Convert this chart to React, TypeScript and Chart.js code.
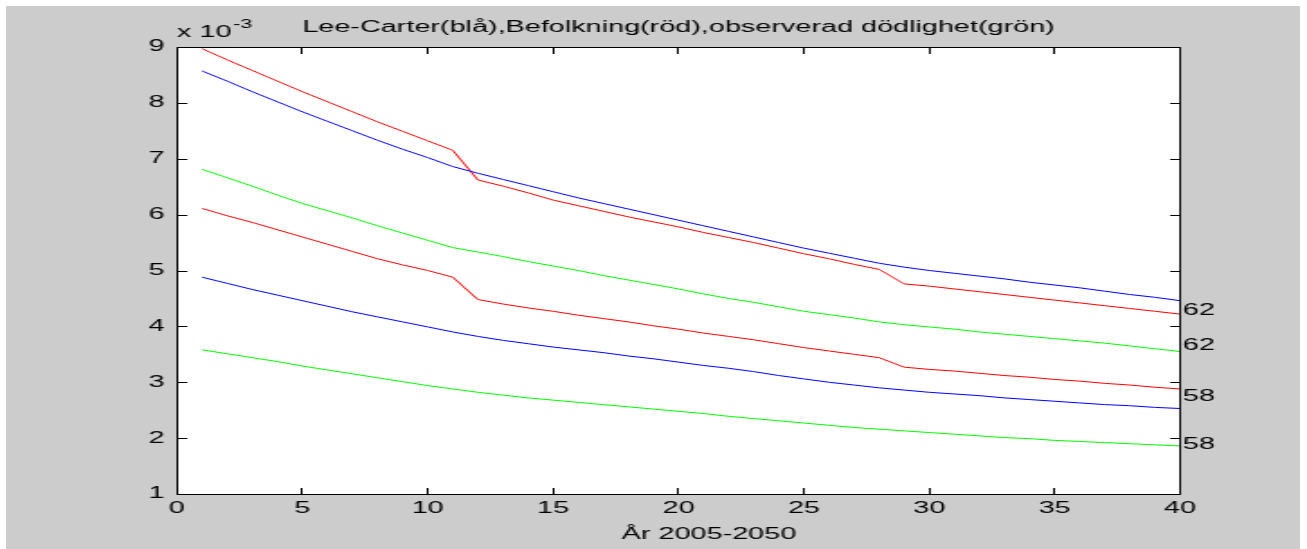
import React, { useEffect, useRef } from 'react';
import { Chart, registerables } from 'chart.js';

Chart.register(...registerables);

// ---- data (mortality values in units of 10^-3) ----
const years = [1, 2, 3, 4, 5, 6, 7, 8, 9, 10, 11, 12, 13, 14, 15, 16, 17, 18, 19, 20,
  21, 22, 23, 24, 25, 26, 27, 28, 29, 30, 31, 32, 33, 34, 35, 36, 37, 38, 39, 40];

const leeCarter62 = [8.57, 8.39, 8.20, 8.02, 7.84, 7.67, 7.50, 7.33, 7.17, 7.02,
  6.86, 6.74, 6.63, 6.52, 6.41, 6.30, 6.20, 6.10, 6.00, 5.90,
  5.80, 5.70, 5.60, 5.50, 5.40, 5.31, 5.22, 5.13, 5.06, 5.00,
  4.95, 4.90, 4.85, 4.79, 4.74, 4.69, 4.63, 4.57, 4.52, 4.46];

const befolkning62 = [8.97, 8.77, 8.58, 8.39, 8.20, 8.02, 7.84, 7.66, 7.49, 7.32,
  7.15, 6.62, 6.51, 6.39, 6.26, 6.16, 6.06, 5.96, 5.87, 5.78,
  5.68, 5.59, 5.50, 5.40, 5.30, 5.21, 5.11, 5.02, 4.76, 4.72,
  4.67, 4.62, 4.57, 4.52, 4.47, 4.42, 4.37, 4.32, 4.27, 4.22];

const observerad62 = [6.81, 6.66, 6.51, 6.35, 6.20, 6.07, 5.94, 5.80, 5.67, 5.54,
  5.41, 5.33, 5.25, 5.16, 5.08, 5.00, 4.91, 4.83, 4.75, 4.67,
  4.58, 4.50, 4.43, 4.35, 4.27, 4.21, 4.15, 4.08, 4.03, 3.99,
  3.95, 3.90, 3.86, 3.82, 3.78, 3.74, 3.70, 3.65, 3.60, 3.55];

const befolkning58 = [6.11, 5.98, 5.86, 5.73, 5.60, 5.47, 5.34, 5.21, 5.10, 5.00,
  4.88, 4.48, 4.40, 4.33, 4.27, 4.20, 4.14, 4.08, 4.01, 3.95,
  3.88, 3.82, 3.76, 3.69, 3.62, 3.56, 3.50, 3.44, 3.27, 3.23,
  3.20, 3.16, 3.12, 3.09, 3.05, 3.02, 2.98, 2.95, 2.91, 2.88];

const leeCarter58 = [4.88, 4.77, 4.66, 4.56, 4.46, 4.36, 4.26, 4.17, 4.08, 3.99,
  3.90, 3.82, 3.75, 3.69, 3.63, 3.58, 3.53, 3.47, 3.42, 3.36,
  3.30, 3.25, 3.19, 3.12, 3.06, 3.00, 2.95, 2.90, 2.86, 2.82,
  2.79, 2.76, 2.72, 2.69, 2.66, 2.63, 2.60, 2.58, 2.55, 2.53];

const observerad58 = [3.58, 3.51, 3.44, 3.37, 3.29, 3.22, 3.15, 3.08, 3.01, 2.94,
  2.88, 2.82, 2.77, 2.72, 2.68, 2.64, 2.60, 2.56, 2.52, 2.48,
  2.44, 2.39, 2.35, 2.31, 2.27, 2.23, 2.19, 2.16, 2.13, 2.10,
  2.07, 2.04, 2.01, 1.99, 1.96, 1.94, 1.92, 1.90, 1.88, 1.86];

const xTickValues = [0, 5, 10, 15, 20, 25, 30, 35, 40];
const yTickValues = [1, 2, 3, 4, 5, 6, 7, 8, 9];
const endLabels = ['62', '62', '58', '58'];
const endLabelValues = [4.275, 3.65, 2.75, 1.88];

const titleText = 'Lee-Carter(blå),Befolkning(röd),observerad dödlighet(grön)';
const xTitleText = 'År 2005-2050';
const exponentBase = 'x 10';
const exponentPower = '-3';

// ---- layout ----
const PAGE_W = 1307;
const PAGE_H = 549;
const LOGICAL_W = 726;
const SX = PAGE_W / LOGICAL_W; // horizontal stretch of the canvas
const FONT = '"Liberation Sans", Arial, Helvetica, sans-serif';

const toL = (pageX: number) => pageX / SX;

const series = [
  { label: 'Lee-Carter 62', data: leeCarter62, color: '#0000ff' },
  { label: 'Befolkning 62', data: befolkning62, color: '#ff0000' },
  { label: 'Observerad 62', data: observerad62, color: '#00ff00' },
  { label: 'Befolkning 58', data: befolkning58, color: '#ff0000' },
  { label: 'Lee-Carter 58', data: leeCarter58, color: '#0000ff' },
  { label: 'Observerad 58', data: observerad58, color: '#00ff00' },
];

const framePlugin = {
  id: 'matlabFrame',
  beforeDraw(chart: any) {
    const { ctx, chartArea } = chart;
    const { left, top, right, bottom } = chartArea;
    ctx.save();
    ctx.fillStyle = '#ffffff';
    ctx.fillRect(left, top, right - left, bottom - top);
    ctx.restore();
  },
  afterDatasetsDraw(chart: any) {
    const { ctx, chartArea, scales } = chart;
    const { left, top, right, bottom } = chartArea;
    const xs = scales.x;
    const ys = scales.y;
    const L = Math.floor(left) + 0.5;
    const R = Math.floor(right) + 0.5;
    const T = Math.round(top) + 0.5;
    const B = Math.round(bottom) + 0.5;
    ctx.save();
    ctx.strokeStyle = '#000000';
    ctx.lineWidth = 1;
    ctx.beginPath();
    ctx.moveTo(L, T);
    ctx.lineTo(R, T);
    ctx.lineTo(R, B);
    ctx.lineTo(L, B);
    ctx.closePath();
    ctx.stroke();
    const yLen = toL(10);
    const xLen = 6.5;
    ctx.beginPath();
    for (const v of yTickValues) {
      const py = Math.round(ys.getPixelForValue(v)) + 0.5;
      ctx.moveTo(L, py);
      ctx.lineTo(L + yLen, py);
      ctx.moveTo(R, py);
      ctx.lineTo(R - yLen, py);
    }
    for (const v of xTickValues) {
      const px = Math.floor(xs.getPixelForValue(v)) + 0.5;
      ctx.moveTo(px, B);
      ctx.lineTo(px, B - xLen);
      ctx.moveTo(px, T);
      ctx.lineTo(px, T + xLen);
    }
    ctx.stroke();

    ctx.fillStyle = '#000000';
    // end labels
    ctx.font = `16px ${FONT}`;
    ctx.textAlign = 'left';
    ctx.textBaseline = 'middle';
    endLabels.forEach((t, i) => {
      ctx.fillText(t, xs.getPixelForValue(40) + toL(3), ys.getPixelForValue(endLabelValues[i]));
    });
    // x axis title
    ctx.textAlign = 'center';
    ctx.fillText(xTitleText, toL(709), 535);
    // exponent
    ctx.textAlign = 'left';
    ctx.textBaseline = 'alphabetic';
    ctx.font = `16px ${FONT}`;
    const bx = toL(177);
    ctx.fillText(exponentBase, bx, 37);
    const w = ctx.measureText(exponentBase).width;
    ctx.font = `12px ${FONT}`;
    ctx.fillText(exponentPower, bx + w + 1, 28);
    ctx.restore();
  },
};

export default function App() {
  const canvasRef = useRef<HTMLCanvasElement | null>(null);

  useEffect(() => {
    const canvas = canvasRef.current;
    if (!canvas) return;
    const chart = new Chart(canvas, {
      type: 'line',
      data: {
        datasets: series.map((s) => ({
          label: s.label,
          data: years.map((x, i) => ({ x, y: s.data[i] })),
          borderColor: s.color,
          backgroundColor: s.color,
          borderWidth: 1,
          pointRadius: 0,
          tension: 0,
          fill: false,
        })),
      },
      options: {
        responsive: false,
        animation: false,
        events: [],
        layout: {
          padding: { left: 0, right: LOGICAL_W - toL(1180), top: 0, bottom: 0 },
        },
        plugins: {
          legend: { display: false },
          tooltip: { enabled: false },
          title: {
            display: true,
            text: titleText,
            fullSize: false,
            color: '#000000',
            font: { family: FONT, size: 16, weight: 'normal' },
            padding: { top: 18, bottom: 47 - 18 - 19.2 },
          },
        },
        scales: {
          x: {
            type: 'linear',
            min: 0,
            max: 40,
            grid: { display: false, drawTicks: false },
            border: { display: false },
            ticks: {
              stepSize: 5,
              color: '#000000',
              padding: 5,
              maxRotation: 0,
              font: { family: FONT, size: 16 },
            },
            afterFit: (scale: any) => {
              scale.height = PAGE_H - 494;
            },
          },
          y: {
            type: 'linear',
            min: 1,
            max: 9,
            grid: { display: false, drawTicks: false },
            border: { display: false },
            ticks: {
              stepSize: 1,
              color: '#000000',
              padding: 7,
              font: { family: FONT, size: 16 },
            },
            afterFit: (scale: any) => {
              scale.width = toL(177);
            },
          },
        },
      },
      plugins: [framePlugin],
    } as any);
    return () => {
      chart.destroy();
    };
  }, []);

  return (
    <div
      style={{
        position: 'absolute',
        left: 0,
        top: 0,
        width: PAGE_W,
        height: PAGE_H,
        background: '#ffffff',
        overflow: 'hidden',
      }}
    >
      <div
        style={{
          position: 'absolute',
          left: 6,
          top: 6,
          width: 1294,
          height: PAGE_H - 6,
          background: '#cccccc',
        }}
      />
      <canvas
        ref={canvasRef}
        width={LOGICAL_W}
        height={PAGE_H}
        style={{ position: 'absolute', left: 0, top: 0, width: `${PAGE_W}px`, height: `${PAGE_H}px` }}
      />
    </div>
  );
}
